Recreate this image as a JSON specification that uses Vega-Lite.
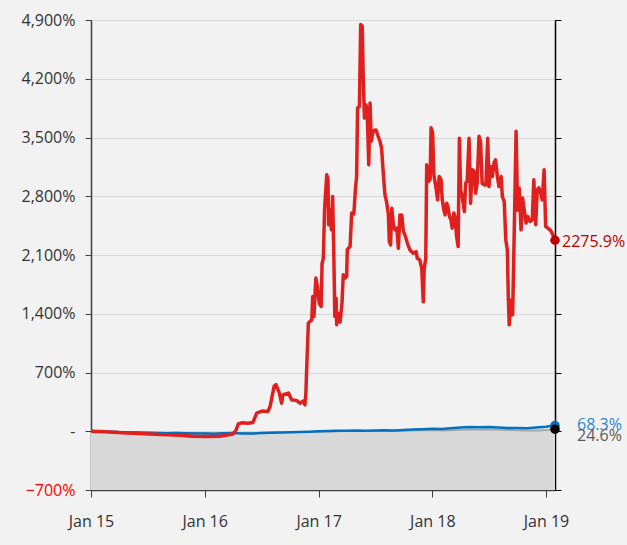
{
  "$schema": "https://vega.github.io/schema/vega-lite/v6.json",
  "width": 464,
  "height": 470,
  "autosize": "none",
  "padding": {"left": 91, "top": 20, "right": 72, "bottom": 55},
  "config": {
    "background": "#f2f2f2",
    "view": {"fill": "#f2f2f2", "stroke": "#404040", "strokeWidth": 1},
    "font": "Open Sans",
    "axis": {"labelFont": "Open Sans", "labelFontSize": 16, "labelColor": "#333333", "tickColor": "#404040", "domainColor": "#404040", "title": null}
  },
  "datasets": {
    "red": [
      {"date": "2015/01/01", "value": 0}, {"date": "2015/02/15", "value": -5}, {"date": "2015/04/26", "value": -20}, {"date": "2015/06/23", "value": -30},
      {"date": "2015/08/11", "value": -40}, {"date": "2015/09/28", "value": -45}, {"date": "2015/11/24", "value": -60}, {"date": "2016/01/02", "value": -62},
      {"date": "2016/02/19", "value": -60}, {"date": "2016/03/12", "value": -45}, {"date": "2016/04/01", "value": -33}, {"date": "2016/04/11", "value": 15},
      {"date": "2016/04/18", "value": 87}, {"date": "2016/04/29", "value": 100}, {"date": "2016/05/19", "value": 95}, {"date": "2016/06/04", "value": 105},
      {"date": "2016/06/16", "value": 215}, {"date": "2016/07/03", "value": 240}, {"date": "2016/07/22", "value": 235}, {"date": "2016/07/29", "value": 295},
      {"date": "2016/08/11", "value": 535}, {"date": "2016/08/17", "value": 555}, {"date": "2016/08/28", "value": 455}, {"date": "2016/09/04", "value": 335},
      {"date": "2016/09/09", "value": 435}, {"date": "2016/09/26", "value": 455}, {"date": "2016/10/06", "value": 375}, {"date": "2016/10/23", "value": 365},
      {"date": "2016/11/02", "value": 335}, {"date": "2016/11/13", "value": 360}, {"date": "2016/11/18", "value": 315}, {"date": "2016/11/21", "value": 455},
      {"date": "2016/11/25", "value": 890}, {"date": "2016/11/29", "value": 1290}, {"date": "2016/12/10", "value": 1327}, {"date": "2016/12/13", "value": 1605},
      {"date": "2016/12/17", "value": 1367}, {"date": "2016/12/23", "value": 1825}, {"date": "2016/12/28", "value": 1725}, {"date": "2017/01/03", "value": 1527},
      {"date": "2017/01/09", "value": 1487}, {"date": "2017/01/12", "value": 2000}, {"date": "2017/01/16", "value": 2060}, {"date": "2017/01/20", "value": 2637},
      {"date": "2017/01/27", "value": 3055}, {"date": "2017/01/31", "value": 3000}, {"date": "2017/02/02", "value": 2460}, {"date": "2017/02/06", "value": 2640},
      {"date": "2017/02/11", "value": 2400}, {"date": "2017/02/15", "value": 2797}, {"date": "2017/02/19", "value": 2043}, {"date": "2017/02/22", "value": 1367},
      {"date": "2017/02/26", "value": 1586}, {"date": "2017/02/28", "value": 1268}, {"date": "2017/03/05", "value": 1407}, {"date": "2017/03/11", "value": 1300},
      {"date": "2017/03/17", "value": 1527}, {"date": "2017/03/21", "value": 1865}, {"date": "2017/03/27", "value": 1825}, {"date": "2017/04/01", "value": 1845},
      {"date": "2017/04/03", "value": 2163}, {"date": "2017/04/12", "value": 2203}, {"date": "2017/04/17", "value": 2600}, {"date": "2017/04/24", "value": 2590},
      {"date": "2017/04/29", "value": 2877}, {"date": "2017/05/03", "value": 3035}, {"date": "2017/05/06", "value": 3850}, {"date": "2017/05/12", "value": 3870},
      {"date": "2017/05/16", "value": 4845}, {"date": "2017/05/21", "value": 4825}, {"date": "2017/05/24", "value": 4250}, {"date": "2017/05/28", "value": 3733},
      {"date": "2017/06/02", "value": 3890}, {"date": "2017/06/06", "value": 3800}, {"date": "2017/06/11", "value": 3175}, {"date": "2017/06/15", "value": 3910},
      {"date": "2017/06/19", "value": 3455}, {"date": "2017/06/25", "value": 3575}, {"date": "2017/07/04", "value": 3590}, {"date": "2017/07/11", "value": 3515},
      {"date": "2017/07/17", "value": 3455}, {"date": "2017/07/22", "value": 3375}, {"date": "2017/07/28", "value": 3055}, {"date": "2017/08/02", "value": 2817},
      {"date": "2017/08/07", "value": 2737}, {"date": "2017/08/13", "value": 2578}, {"date": "2017/08/16", "value": 2260}, {"date": "2017/08/20", "value": 2220},
      {"date": "2017/08/24", "value": 2657}, {"date": "2017/08/29", "value": 2458}, {"date": "2017/09/03", "value": 2400}, {"date": "2017/09/09", "value": 2420},
      {"date": "2017/09/14", "value": 2180}, {"date": "2017/09/19", "value": 2578}, {"date": "2017/09/25", "value": 2578}, {"date": "2017/09/30", "value": 2380},
      {"date": "2017/10/05", "value": 2340}, {"date": "2017/10/13", "value": 2240}, {"date": "2017/10/21", "value": 2160}, {"date": "2017/11/01", "value": 2120},
      {"date": "2017/11/10", "value": 2140}, {"date": "2017/11/14", "value": 2060}, {"date": "2017/11/22", "value": 2040}, {"date": "2017/11/28", "value": 1940},
      {"date": "2017/12/03", "value": 1542}, {"date": "2017/12/06", "value": 1940}, {"date": "2017/12/11", "value": 2060}, {"date": "2017/12/14", "value": 3175},
      {"date": "2017/12/19", "value": 2975}, {"date": "2017/12/25", "value": 3000}, {"date": "2017/12/28", "value": 3615}, {"date": "2018/01/02", "value": 3560},
      {"date": "2018/01/06", "value": 3055}, {"date": "2018/01/13", "value": 2897}, {"date": "2018/01/18", "value": 2757}, {"date": "2018/01/23", "value": 3035},
      {"date": "2018/01/29", "value": 3000}, {"date": "2018/02/02", "value": 2757}, {"date": "2018/02/07", "value": 2637}, {"date": "2018/02/11", "value": 2578},
      {"date": "2018/02/16", "value": 2717}, {"date": "2018/02/20", "value": 2680}, {"date": "2018/02/25", "value": 2558}, {"date": "2018/03/02", "value": 2520},
      {"date": "2018/03/06", "value": 2420}, {"date": "2018/03/11", "value": 2600}, {"date": "2018/03/15", "value": 2560}, {"date": "2018/03/20", "value": 2320},
      {"date": "2018/03/25", "value": 2200}, {"date": "2018/03/29", "value": 3490}, {"date": "2018/04/02", "value": 2875}, {"date": "2018/04/07", "value": 2797},
      {"date": "2018/04/14", "value": 2617}, {"date": "2018/04/18", "value": 2955}, {"date": "2018/04/23", "value": 2980}, {"date": "2018/04/29", "value": 3490},
      {"date": "2018/05/04", "value": 2717}, {"date": "2018/05/09", "value": 3115}, {"date": "2018/05/15", "value": 3100}, {"date": "2018/05/20", "value": 2837},
      {"date": "2018/05/25", "value": 2955}, {"date": "2018/05/31", "value": 3515}, {"date": "2018/06/05", "value": 3450}, {"date": "2018/06/10", "value": 2955},
      {"date": "2018/06/17", "value": 2935}, {"date": "2018/06/22", "value": 2935}, {"date": "2018/06/28", "value": 3490}, {"date": "2018/07/02", "value": 2915},
      {"date": "2018/07/07", "value": 3155}, {"date": "2018/07/13", "value": 3035}, {"date": "2018/07/18", "value": 3195}, {"date": "2018/07/23", "value": 3235},
      {"date": "2018/07/29", "value": 3035}, {"date": "2018/08/03", "value": 2915}, {"date": "2018/08/10", "value": 3035}, {"date": "2018/08/14", "value": 2797},
      {"date": "2018/08/20", "value": 2737}, {"date": "2018/08/25", "value": 2280}, {"date": "2018/08/30", "value": 2160}, {"date": "2018/09/02", "value": 1605},
      {"date": "2018/09/05", "value": 1268}, {"date": "2018/09/11", "value": 1565}, {"date": "2018/09/16", "value": 1387}, {"date": "2018/09/21", "value": 2360},
      {"date": "2018/09/27", "value": 3575}, {"date": "2018/10/02", "value": 2637}, {"date": "2018/10/07", "value": 2897}, {"date": "2018/10/13", "value": 2400},
      {"date": "2018/10/18", "value": 2778}, {"date": "2018/10/23", "value": 2640}, {"date": "2018/10/29", "value": 2480}, {"date": "2018/11/03", "value": 2560},
      {"date": "2018/11/11", "value": 2500}, {"date": "2018/11/18", "value": 2520}, {"date": "2018/11/23", "value": 2997}, {"date": "2018/11/29", "value": 2460},
      {"date": "2018/12/04", "value": 2877}, {"date": "2018/12/09", "value": 2900}, {"date": "2018/12/15", "value": 2837}, {"date": "2018/12/20", "value": 2757},
      {"date": "2018/12/26", "value": 3115}, {"date": "2018/12/31", "value": 2440}, {"date": "2019/01/07", "value": 2420}, {"date": "2019/01/14", "value": 2400},
      {"date": "2019/01/21", "value": 2360}, {"date": "2019/01/30", "value": 2275.9}
    ],
    "blue": [
      {"date": "2015/01/01", "value": 0}, {"date": "2015/02/01", "value": -3}, {"date": "2015/03/01", "value": -5}, {"date": "2015/04/01", "value": -10},
      {"date": "2015/05/01", "value": -12}, {"date": "2015/06/01", "value": -15}, {"date": "2015/07/01", "value": -18}, {"date": "2015/08/01", "value": -22},
      {"date": "2015/09/01", "value": -25}, {"date": "2015/10/01", "value": -22}, {"date": "2015/11/01", "value": -24}, {"date": "2015/12/01", "value": -26},
      {"date": "2016/01/01", "value": -28}, {"date": "2016/02/01", "value": -30}, {"date": "2016/03/01", "value": -25}, {"date": "2016/04/01", "value": -22},
      {"date": "2016/05/01", "value": -26}, {"date": "2016/06/01", "value": -28}, {"date": "2016/07/01", "value": -22}, {"date": "2016/08/01", "value": -18},
      {"date": "2016/09/01", "value": -15}, {"date": "2016/10/01", "value": -12}, {"date": "2016/11/01", "value": -8}, {"date": "2016/12/01", "value": -5},
      {"date": "2017/01/01", "value": 0}, {"date": "2017/02/01", "value": 2}, {"date": "2017/03/01", "value": 5}, {"date": "2017/04/01", "value": 6},
      {"date": "2017/05/01", "value": 8}, {"date": "2017/06/01", "value": 7}, {"date": "2017/07/01", "value": 10}, {"date": "2017/08/01", "value": 12},
      {"date": "2017/09/01", "value": 10}, {"date": "2017/10/01", "value": 15}, {"date": "2017/11/01", "value": 20}, {"date": "2017/12/01", "value": 25},
      {"date": "2018/01/01", "value": 30}, {"date": "2018/02/01", "value": 28}, {"date": "2018/03/01", "value": 35}, {"date": "2018/04/01", "value": 45},
      {"date": "2018/05/01", "value": 50}, {"date": "2018/06/01", "value": 48}, {"date": "2018/07/01", "value": 52}, {"date": "2018/08/01", "value": 45},
      {"date": "2018/09/01", "value": 40}, {"date": "2018/10/01", "value": 38}, {"date": "2018/11/01", "value": 35}, {"date": "2018/12/01", "value": 45},
      {"date": "2019/01/01", "value": 55}, {"date": "2019/01/15", "value": 62}, {"date": "2019/01/30", "value": 68.3}
    ],
    "grey": [
      {"date": "2015/01/01", "value": 0}, {"date": "2015/02/01", "value": -2}, {"date": "2015/03/01", "value": -4}, {"date": "2015/04/01", "value": -8},
      {"date": "2015/05/01", "value": -10}, {"date": "2015/06/01", "value": -12}, {"date": "2015/07/01", "value": -14}, {"date": "2015/08/01", "value": -18},
      {"date": "2015/09/01", "value": -20}, {"date": "2015/10/01", "value": -18}, {"date": "2015/11/01", "value": -20}, {"date": "2015/12/01", "value": -22},
      {"date": "2016/01/01", "value": -24}, {"date": "2016/02/01", "value": -26}, {"date": "2016/03/01", "value": -22}, {"date": "2016/04/01", "value": -20},
      {"date": "2016/05/01", "value": -22}, {"date": "2016/06/01", "value": -24}, {"date": "2016/07/01", "value": -20}, {"date": "2016/08/01", "value": -16},
      {"date": "2016/09/01", "value": -14}, {"date": "2016/10/01", "value": -12}, {"date": "2016/11/01", "value": -10}, {"date": "2016/12/01", "value": -8},
      {"date": "2017/01/01", "value": -5}, {"date": "2017/02/01", "value": -3}, {"date": "2017/03/01", "value": 0}, {"date": "2017/04/01", "value": 2},
      {"date": "2017/05/01", "value": 3}, {"date": "2017/06/01", "value": 2}, {"date": "2017/07/01", "value": 4}, {"date": "2017/08/01", "value": 5},
      {"date": "2017/09/01", "value": 4}, {"date": "2017/10/01", "value": 7}, {"date": "2017/11/01", "value": 10}, {"date": "2017/12/01", "value": 12},
      {"date": "2018/01/01", "value": 15}, {"date": "2018/02/01", "value": 10}, {"date": "2018/03/01", "value": 12}, {"date": "2018/04/01", "value": 18},
      {"date": "2018/05/01", "value": 20}, {"date": "2018/06/01", "value": 18}, {"date": "2018/07/01", "value": 22}, {"date": "2018/08/01", "value": 18},
      {"date": "2018/09/01", "value": 15}, {"date": "2018/10/01", "value": 12}, {"date": "2018/11/01", "value": 8}, {"date": "2018/12/01", "value": 10},
      {"date": "2019/01/01", "value": 15}, {"date": "2019/01/15", "value": 20}, {"date": "2019/01/30", "value": 24.6}
    ],
    "ends": [
      {"series": "Fund", "date": "2019/01/30", "value": 2275.9, "label": "2275.9%"},
      {"series": "Index", "date": "2019/01/30", "value": 68.3, "label": "68.3%"},
      {"series": "Benchmark", "date": "2019/01/30", "value": 24.6, "label": "24.6%"}
    ],
    "band": [{"lo": -700, "hi": 0}]
  },
  "resolve": {"scale": {"y": "independent"}},
  "layer": [
    {
      "data": {"name": "band"},
      "mark": {"type": "rect", "fill": "#d9d9d9"},
      "encoding": {
        "y": {"field": "hi", "type": "quantitative",
          "scale": {"domain": [-700, 4900], "nice": false, "zero": false},
          "axis": {"orient": "left", "values": [-700, 0, 700, 1400, 2100, 2800, 3500, 4200, 4900],
            "labelExpr": "datum.value == 0 ? '-' : format(datum.value, ',') + '%'",
            "labelColor": {"condition": {"test": "datum.value < 0", "value": "#ff0000"}, "value": "#333333"},
            "grid": true, "gridColor": "#d9d9d9", "gridWidth": 1, "tickSize": 6, "labelPadding": 10, "domainColor": "#404040", "domainWidth": 1.5}},
        "y2": {"field": "lo"}
      }
    },
    {
      "data": {"name": "grey"},
      "mark": {"type": "line", "color": "#a6a6a6", "strokeWidth": 2},
      "encoding": {
        "x": {"field": "date", "type": "temporal",
          "scale": {"domain": [{"year": 2015, "month": 1, "date": 1}, {"year": 2019, "month": 1, "date": 30}]},
          "axis": {"values": [{"year": 2015, "month": 1, "date": 1}, {"year": 2016, "month": 1, "date": 1}, {"year": 2017, "month": 1, "date": 1}, {"year": 2018, "month": 1, "date": 1}, {"year": 2019, "month": 1, "date": 1}],
            "format": "%b %y", "labelFlush": false, "labelOverlap": false, "tickSize": 7, "labelPadding": 16, "grid": false, "domainColor": "#404040", "domainWidth": 1.5}},
        "y": {"field": "value", "type": "quantitative", "scale": {"domain": [-700, 4900], "nice": false, "zero": false}, "axis": null}
      }
    },
    {
      "data": {"name": "blue"},
      "mark": {"type": "line", "color": "#0070c0", "strokeWidth": 2.5},
      "encoding": {
        "x": {"field": "date", "type": "temporal", "scale": {"domain": [{"year": 2015, "month": 1, "date": 1}, {"year": 2019, "month": 1, "date": 30}]}},
        "y": {"field": "value", "type": "quantitative", "scale": {"domain": [-700, 4900], "nice": false, "zero": false}, "axis": null}
      }
    },
    {
      "data": {"name": "red"},
      "mark": {"type": "line", "color": "#e0201e", "strokeWidth": 3.5, "strokeJoin": "round"},
      "encoding": {
        "x": {"field": "date", "type": "temporal", "scale": {"domain": [{"year": 2015, "month": 1, "date": 1}, {"year": 2019, "month": 1, "date": 30}]}},
        "y": {"field": "value", "type": "quantitative", "scale": {"domain": [-700, 4900], "nice": false, "zero": false},
          "axis": {"orient": "right", "values": [-700, 0, 700, 1400, 2100, 2800, 3500, 4200, 4900], "labels": false, "grid": false, "tickSize": 6, "domainColor": "#000000", "domainWidth": 1.5, "tickColor": "#000000"}}
      }
    },
    {
      "data": {"name": "ends"},
      "mark": {"type": "point", "filled": true, "size": 90, "opacity": 1},
      "encoding": {
        "x": {"field": "date", "type": "temporal", "scale": {"domain": [{"year": 2015, "month": 1, "date": 1}, {"year": 2019, "month": 1, "date": 30}]}},
        "y": {"field": "value", "type": "quantitative", "scale": {"domain": [-700, 4900], "nice": false, "zero": false}, "axis": null},
        "color": {"field": "series", "type": "nominal", "scale": {"domain": ["Fund", "Index", "Benchmark"], "range": ["#c00000", "#0070c0", "#000000"]}, "legend": null}
      }
    },
    {
      "data": {"name": "ends"},
      "transform": [{"filter": "datum.series == 'Fund'"}],
      "mark": {"type": "text", "align": "left", "baseline": "middle", "dx": 7, "dy": 2, "fontSize": 16, "color": "#c00000"},
      "encoding": {
        "x": {"field": "date", "type": "temporal", "scale": {"domain": [{"year": 2015, "month": 1, "date": 1}, {"year": 2019, "month": 1, "date": 30}]}},
        "y": {"field": "value", "type": "quantitative", "scale": {"domain": [-700, 4900], "nice": false, "zero": false}, "axis": null},
        "text": {"field": "label"}
      }
    },
    {
      "data": {"name": "ends"},
      "transform": [{"filter": "datum.series == 'Index'"}],
      "mark": {"type": "text", "align": "left", "baseline": "middle", "dx": 22, "dy": -1, "fontSize": 16, "color": "#2e86d0"},
      "encoding": {
        "x": {"field": "date", "type": "temporal", "scale": {"domain": [{"year": 2015, "month": 1, "date": 1}, {"year": 2019, "month": 1, "date": 30}]}},
        "y": {"field": "value", "type": "quantitative", "scale": {"domain": [-700, 4900], "nice": false, "zero": false}, "axis": null},
        "text": {"field": "label"}
      }
    },
    {
      "data": {"name": "ends"},
      "transform": [{"filter": "datum.series == 'Benchmark'"}],
      "mark": {"type": "text", "align": "left", "baseline": "middle", "dx": 22, "dy": 7, "fontSize": 16, "color": "#595959"},
      "encoding": {
        "x": {"field": "date", "type": "temporal", "scale": {"domain": [{"year": 2015, "month": 1, "date": 1}, {"year": 2019, "month": 1, "date": 30}]}},
        "y": {"field": "value", "type": "quantitative", "scale": {"domain": [-700, 4900], "nice": false, "zero": false}, "axis": null},
        "text": {"field": "label"}
      }
    }
  ]
}
